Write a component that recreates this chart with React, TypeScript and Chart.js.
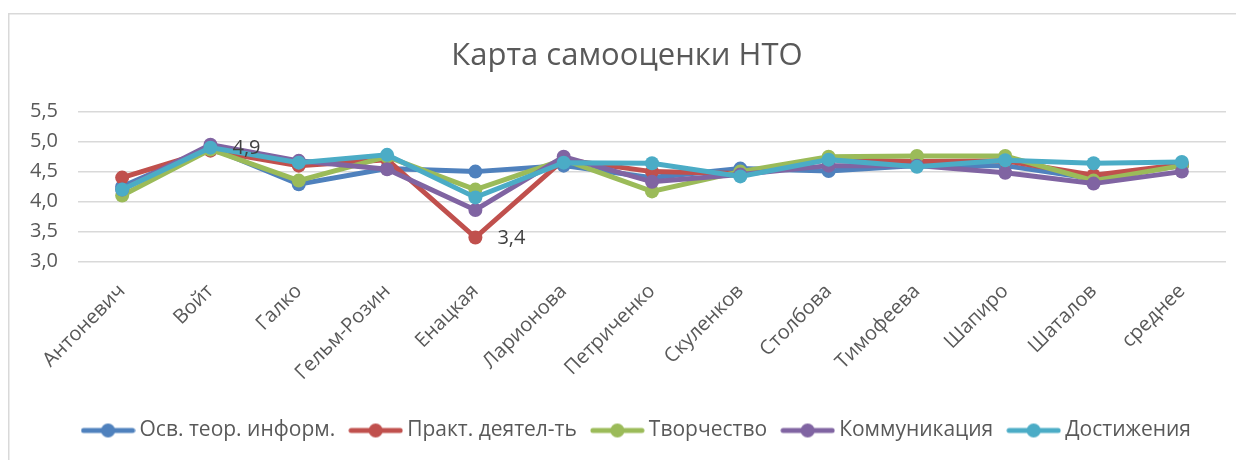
import React, { useEffect, useRef } from "react";
import { Chart, registerables } from "chart.js";

Chart.register(...registerables);

const categories = [
  "Антоневич", "Войт", "Галко", "Гельм-Розин", "Енацкая", "Ларионова",
  "Петриченко", "Скуленков", "Столбова", "Тимофеева", "Шапиро", "Шаталов", "среднее",
];

const seriesNames = [
  "Осв. теор. информ.", "Практ. деятел-ть", "Творчество", "Коммуникация", "Достижения",
];

const osv = [4.25, 4.9, 4.29, 4.55, 4.5, 4.6, 4.4, 4.55, 4.51, 4.6, 4.6, 4.38, 4.6];
const prakt = [4.4, 4.85, 4.6, 4.7, 3.4, 4.7, 4.5, 4.47, 4.7, 4.67, 4.68, 4.44, 4.62];
const tvor = [4.1, 4.87, 4.35, 4.75, 4.2, 4.7, 4.17, 4.5, 4.75, 4.76, 4.76, 4.35, 4.6];
const komm = [4.2, 4.95, 4.68, 4.54, 3.86, 4.75, 4.33, 4.45, 4.6, 4.6, 4.48, 4.3, 4.5];
const dost = [4.2, 4.9, 4.65, 4.78, 4.07, 4.65, 4.64, 4.42, 4.7, 4.58, 4.69, 4.64, 4.66];

const colors = ["#4F81BD", "#C0504D", "#9BBB59", "#8064A2", "#4BACC6"];

// data labels shown: [datasetIndex, categoryIndex]
const shownLabels: [number, number][] = [
  [0, 1],
  [1, 4],
];

const yTicks = [3.0, 3.5, 4.0, 4.5, 5.0, 5.5];

const FONT = "'Open Sans', sans-serif";

function makeLegendIcon(color: string): HTMLCanvasElement {
  const c = document.createElement("canvas");
  c.width = 55;
  c.height = 16;
  const g = c.getContext("2d")!;
  g.strokeStyle = color;
  g.lineWidth = 5;
  g.lineCap = "round";
  g.beginPath();
  g.moveTo(3, 8);
  g.lineTo(52, 8);
  g.stroke();
  g.fillStyle = color;
  g.beginPath();
  g.arc(27.5, 8, 7, 0, Math.PI * 2);
  g.fill();
  return c;
}

const borderPlugin = {
  id: "frameBorder",
  beforeDraw(chart: any) {
    const ctx = chart.ctx;
    ctx.save();
    ctx.strokeStyle = "#d9d9d9";
    ctx.lineWidth = 1.5;
    ctx.beginPath();
    ctx.moveTo(0.75, chart.height + 5);
    ctx.lineTo(0.75, 5.75);
    ctx.lineTo(chart.width + 5, 5.75);
    ctx.stroke();
    ctx.restore();
  },
};

const legendShiftPlugin = {
  id: "legendShift",
  afterLayout(chart: any) {
    const lg = chart.legend;
    if (lg) {
      lg.left += 12;
      lg.right += 12;
    }
  },
};

const dataLabelPlugin = {
  id: "someDataLabels",
  afterDatasetsDraw(chart: any) {
    const ctx = chart.ctx;
    ctx.save();
    ctx.font = `20px ${FONT}`;
    ctx.fillStyle = "#404040";
    ctx.textAlign = "left";
    ctx.textBaseline = "middle";
    for (const [di, ci] of shownLabels) {
      const meta = chart.getDatasetMeta(di);
      const pt = meta.data[ci];
      const v = chart.data.datasets[di].data[ci] as number;
      const txt = (Math.round(v * 10) / 10).toFixed(1).replace(".", ",");
      ctx.fillText(txt, pt.x + 22, pt.y + 1);
    }
    ctx.restore();
  },
};

export default function App() {
  const ref = useRef<HTMLCanvasElement>(null);

  useEffect(() => {
    if (!ref.current) return;
    const all = [osv, prakt, tvor, komm, dost];
    const icons = colors.map(makeLegendIcon);
    const chart = new Chart(ref.current, {
      type: "line",
      data: {
        labels: categories,
        datasets: all.map((d, i) => ({
          label: seriesNames[i],
          data: d,
          borderColor: colors[i],
          backgroundColor: colors[i],
          borderWidth: 5,
          pointRadius: 7,
          pointHoverRadius: 7,
          pointBorderWidth: 0,
          pointBackgroundColor: colors[i],
          pointStyle: "circle",
          tension: 0,
          order: 5 - i,
        })),
      },
      options: {
        animation: false,
        responsive: false,
        maintainAspectRatio: false,
        layout: { padding: { left: 20, right: 18, top: 0, bottom: 9 } },
        plugins: {
          title: {
            display: true,
            text: "Карта самооценки НТО",
            color: "#595959",
            font: { family: FONT, size: 31, weight: "normal" },
            padding: { top: 29.5, bottom: 37 },
          },
          legend: {
            display: true,
            position: "bottom",
            labels: {
              usePointStyle: true,
              pointStyleWidth: 42,
              padding: 19.5,
              color: "#595959",
              font: { family: FONT, size: 21 },
              sort: (a: any, b: any) => a.datasetIndex - b.datasetIndex,
              generateLabels: (ch: any) => {
                const items = Chart.defaults.plugins.legend.labels.generateLabels(ch);
                return items.map((it: any) => ({
                  ...it,
                  pointStyle: icons[it.datasetIndex],
                }));
              },
            },
          },
          tooltip: { enabled: false },
        },
        scales: {
          x: {
            offset: true,
            grid: { display: false },
            border: { display: false },
            ticks: {
              minRotation: 45,
              maxRotation: 45,
              color: "#595959",
              font: { family: FONT, size: 20 },
              padding: 10,
              autoSkip: false,
            },
            afterFit: (s: any) => {
              s.height = 139;
            },
          },
          y: {
            min: 3,
            max: 5.5,
            afterBuildTicks: (s: any) => {
              s.ticks = yTicks.map((v) => ({ value: v }));
            },
            grid: { color: "#d9d9d9", lineWidth: 1.5, drawTicks: false },
            border: { display: false },
            ticks: {
              color: "#595959",
              font: { family: FONT, size: 20 },
              padding: 20,
              callback: (v: any) => Number(v).toFixed(1).replace(".", ","),
            },
            afterFit: (s: any) => {
              s.width = 50;
            },
          },
        },
      },
      plugins: [borderPlugin, legendShiftPlugin, dataLabelPlugin],
    });
    return () => chart.destroy();
  }, []);

  return (
    <div style={{ width: 1236, height: 452 }}>
      <canvas ref={ref} width={1236} height={452} style={{ display: "block", width: 1236, height: 452 }} />
    </div>
  );
}
